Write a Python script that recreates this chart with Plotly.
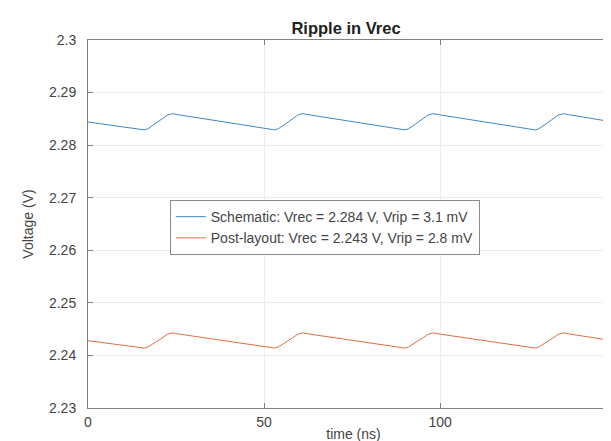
import plotly.graph_objects as go

# ---- data ----
time_schematic = [0, 16, 17, 19, 21, 22.5, 24, 25.5,
                  53, 54, 56, 58, 59.5, 61, 62.5,
                  90, 91, 93, 95, 96.5, 98, 99.5,
                  127, 128, 130, 132, 133.5, 135, 136.5, 150]
v_schematic = [2.2844, 2.2829, 2.2831, 2.2840, 2.2850, 2.2857, 2.2860, 2.2858,
               2.2829, 2.2831, 2.2840, 2.2850, 2.2857, 2.2860, 2.2858,
               2.2829, 2.2831, 2.2840, 2.2850, 2.2857, 2.2860, 2.2858,
               2.2829, 2.2831, 2.2840, 2.2850, 2.2857, 2.2860, 2.2858, 2.2843]

time_post = [0, 16, 17, 19, 21, 22.5, 24, 25.5,
             53, 54, 56, 58, 59.5, 61, 62.5,
             90, 91, 93, 95, 96.5, 98, 99.5,
             127, 128, 130, 132, 133.5, 135, 136.5, 150]
v_post = [2.2428, 2.2414, 2.2416, 2.2424, 2.2433, 2.2440, 2.2443, 2.2441,
          2.2414, 2.2416, 2.2424, 2.2433, 2.2440, 2.2443, 2.2441,
          2.2414, 2.2416, 2.2424, 2.2433, 2.2440, 2.2443, 2.2441,
          2.2414, 2.2416, 2.2424, 2.2433, 2.2440, 2.2443, 2.2441, 2.2427]

series_names = ["Schematic: Vrec = 2.284 V, Vrip = 3.1 mV",
                "Post-layout: Vrec = 2.243 V, Vrip = 2.8 mV"]

x_tick_vals = [0, 50, 100, 150]
x_tick_text = ["0", "50", "100", "150"]
y_tick_vals = [2.23, 2.24, 2.25, 2.26, 2.27, 2.28, 2.29, 2.3]
y_tick_text = ["2.23", "2.24", "2.25", "2.26", "2.27", "2.28", "2.29", "2.3"]

FONT = "Liberation Sans, Arial, sans-serif"
AXIS_COLOR = "#808080"
TEXT_COLOR = "#444444"
GRID_COLOR = "#ececec"

fig = go.Figure()
fig.add_trace(go.Scatter(x=time_schematic, y=v_schematic, mode="lines",
                         name=series_names[0],
                         line=dict(color="#3f86c6", width=1)))
fig.add_trace(go.Scatter(x=time_post, y=v_post, mode="lines",
                         name=series_names[1],
                         line=dict(color="#dd6f42", width=1)))

fig.update_layout(
    width=611, height=441,
    margin=dict(l=80, r=0, t=32, b=41, autoexpand=False),
    paper_bgcolor="white", plot_bgcolor="white",
    font=dict(family=FONT, color=TEXT_COLOR, size=13),
    title=dict(text="<b>Ripple in Vrec</b>", x=(338 / 611), xanchor="center",
               y=1 - 20 / 441, yanchor="middle",
               font=dict(size=16.5, color="#222222", family=FONT)),
    showlegend=True,
    legend=dict(x=0.154, y=0.565, xanchor="left", yanchor="top",
                bgcolor="white", bordercolor="#8a8a8a", borderwidth=1,
                font=dict(size=14, color=TEXT_COLOR, family=FONT),
                itemwidth=30, tracegroupgap=0),
)

fig.update_xaxes(
    automargin=False,
    range=[0, 150.8], tickvals=x_tick_vals, ticktext=x_tick_text,
    showgrid=True, gridcolor=GRID_COLOR, gridwidth=1,
    zeroline=False, showline=True, linecolor=AXIS_COLOR, linewidth=1,
    mirror="ticks", ticks="inside", ticklen=5, tickcolor=AXIS_COLOR,
    tickfont=dict(size=14, color=TEXT_COLOR), ticklabelstandoff=1,
    ticklabeloverflow="allow",
    title=dict(text="time (ns)", font=dict(size=14, color=TEXT_COLOR), standoff=0),
)
fig.update_yaxes(
    automargin=False,
    range=[2.23, 2.3], tickvals=y_tick_vals, ticktext=y_tick_text,
    showgrid=True, gridcolor=GRID_COLOR, gridwidth=1,
    zeroline=False, showline=True, linecolor=AXIS_COLOR, linewidth=1,
    mirror="ticks", ticks="inside", ticklen=5, tickcolor=AXIS_COLOR,
    tickfont=dict(size=14, color=TEXT_COLOR), ticklabelstandoff=8,
    title=dict(text="Voltage (V)", font=dict(size=14, color=TEXT_COLOR), standoff=12),
)

fig.write_html("out.html")
